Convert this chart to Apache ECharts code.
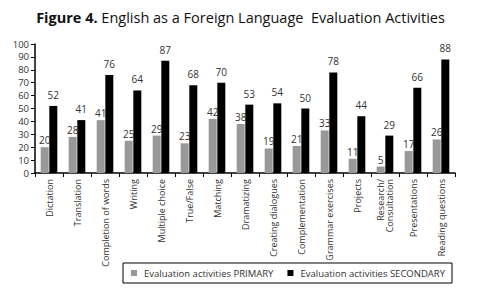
<!DOCTYPE html>
<html>
<head>
<meta charset="utf-8">
<script src="https://cdn.jsdelivr.net/npm/echarts@6/dist/echarts.min.js"></script>
<style>
  html, body { margin: 0; padding: 0; background: #fff; }
  #chart { width: 481px; height: 291px; }
</style>
</head>
<body>
<div id="chart"></div>
<script>
var categories = ['Dictation', 'Translation', 'Completion of words', 'Writing', 'Multiple choice',
  'True/False', 'Matching', 'Dramatizing', 'Creating dialogues', 'Complementation',
  'Grammar exercises', 'Projects', 'Research/\nConsultation', 'Presentations', 'Reading questions'];
var primary = [20, 28, 41, 25, 29, 23, 42, 38, 19, 21, 33, 11, 5, 17, 26];
var secondary = [52, 41, 76, 64, 87, 68, 70, 53, 54, 50, 78, 44, 29, 66, 88];
var yTicks = [0, 10, 20, 30, 40, 50, 60, 70, 80, 90, 100];

var font = 'Open Sans';
var chart = echarts.init(document.getElementById('chart'), null, {renderer: 'svg'});

chart.setOption({
  animation: false,
  title: {
    text: '{b|Figure 4.} English as a Foreign Language  Evaluation Activities',
    left: 'center',
    top: 5,
    textStyle: {
      fontFamily: font,
      fontSize: 14.5,
      fontWeight: 'normal',
      color: '#111',
      rich: {
        b: {fontFamily: font, fontSize: 14.5, fontWeight: 'bold', color: '#111'}
      }
    }
  },
  legend: {
    top: 263,
    left: 123,
    width: 350,
    itemWidth: 6,
    itemHeight: 6,
    itemGap: 14,
    padding: [5, 7, 5, 8],
    borderColor: '#000',
    borderWidth: 1,
    icon: 'rect',
    textStyle: {fontFamily: font, fontSize: 9.5, color: '#333', padding: [0, 0, 0, 2]},
    data: ['Evaluation activities PRIMARY', 'Evaluation activities SECONDARY']
  },
  grid: {left: 35, right: 26, top: 44, bottom: 118},
  xAxis: {
    type: 'category',
    data: categories,
    axisLine: {lineStyle: {color: '#000', width: 1.5}},
    axisTick: {show: true, lineStyle: {color: '#000'}, length: 4},
    axisLabel: {
      rotate: 90,
      interval: 0,
      margin: 6,
      fontFamily: font,
      fontSize: 9,
      color: '#333',
      align: 'right'
    }
  },
  yAxis: {
    type: 'value',
    min: yTicks[0],
    max: yTicks[yTicks.length - 1],
    interval: 10,
    splitLine: {show: false},
    axisLine: {show: true, lineStyle: {color: '#000', width: 1.5}},
    axisTick: {show: true, lineStyle: {color: '#000'}, length: 4},
    axisLabel: {fontFamily: font, fontSize: 9.5, color: '#333', margin: 6}
  },
  series: [
    {
      name: 'Evaluation activities PRIMARY',
      type: 'bar',
      data: primary,
      barWidth: 8,
      barGap: '8%',
      itemStyle: {color: '#999999'},
      label: {show: true, position: 'top', distance: 2, fontFamily: font, fontSize: 10, color: '#333'}
    },
    {
      name: 'Evaluation activities SECONDARY',
      type: 'bar',
      data: secondary,
      barWidth: 8,
      itemStyle: {color: '#000000'},
      label: {show: true, position: 'top', distance: 6, fontFamily: font, fontSize: 10, color: '#333'}
    }
  ]
});
</script>
</body>
</html>
